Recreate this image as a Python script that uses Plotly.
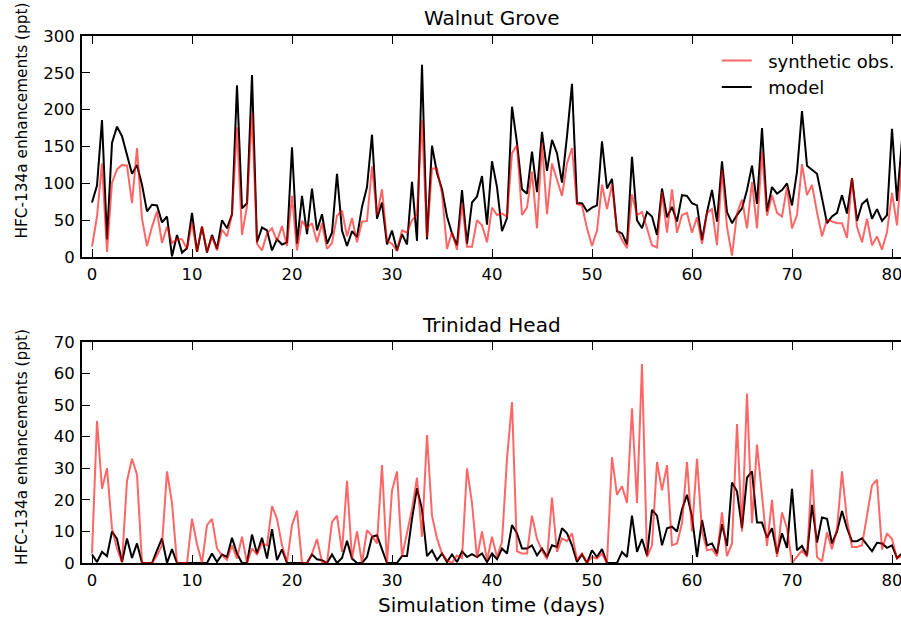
import plotly.graph_objects as go

DAY_START = 0.0
DAY_STEP = 0.5

# Walnut Grove (ppt)
wg_model = [74, 97, 186, 24, 155, 177, 164, 139, 113, 125, 98, 62, 71, 70, 47, 55, 1, 30, 6, 12,
            60, 7, 41, 6, 30, 11, 50, 39, 58, 233, 66, 73, 247, 20, 40, 36, 9, 24, 17, 20,
            149, 18, 83, 31, 93, 36, 58, 18, 33, 113, 36, 15, 35, 27, 68, 95, 166, 52, 74, 17,
            36, 9, 31, 17, 102, 22, 261, 24, 151, 114, 92, 55, 32, 16, 91, 18, 74, 82, 110, 44,
            130, 95, 35, 53, 204, 155, 92, 86, 143, 88, 170, 117, 159, 141, 101, 164, 235, 73, 73, 62,
            67, 70, 157, 93, 106, 35, 32, 17, 136, 50, 39, 61, 55, 30, 93, 54, 68, 48, 84, 83,
            73, 70, 23, 61, 91, 48, 130, 61, 46, 57, 66, 91, 124, 72, 175, 62, 95, 86, 91, 100,
            70, 116, 198, 124, 118, 113, 80, 46, 55, 60, 84, 59, 107, 49, 72, 78, 52, 65, 49, 57,
            174, 76, 159]
wg_obs = [14, 55, 127, 7, 101, 119, 125, 124, 73, 148, 52, 15, 41, 62, 19, 41, 19, 24, 24, 11,
          46, 7, 42, 7, 28, 9, 37, 28, 58, 176, 30, 69, 195, 18, 9, 32, 39, 22, 42, 15,
          83, 9, 49, 39, 46, 20, 46, 11, 19, 56, 63, 28, 53, 20, 48, 49, 123, 57, 92, 22,
          18, 8, 36, 33, 50, 58, 186, 27, 120, 120, 86, 11, 34, 10, 73, 14, 14, 50, 43, 20,
          67, 57, 59, 55, 141, 152, 57, 67, 116, 39, 155, 58, 127, 105, 83, 127, 148, 72, 70, 39,
          15, 36, 98, 65, 99, 37, 23, 12, 85, 57, 61, 39, 16, 13, 88, 33, 92, 33, 57, 60,
          33, 54, 18, 60, 65, 16, 118, 41, 2, 59, 78, 39, 102, 39, 143, 56, 84, 60, 55, 95,
          39, 57, 126, 84, 98, 61, 28, 51, 49, 46, 46, 26, 107, 41, 20, 52, 16, 28, 10, 34,
          87, 43, 132]

# Trinidad Head (ppt)
th_model = [2.7, 0.3, 3.5, 2.2, 10, 7.6, 0.3, 7.8, 1.6, 6.2, 0, 0, 0, 4, 7.8, 0, 4.4, 0, 0, 0,
            0, 0, 0, 0, 3, 0.3, 2.7, 1.9, 8, 3, 0, 0, 9, 3, 8, 1.4, 10.7, 0.9, 4.3, 0,
            0, 0, 0, 0, 2.7, 1.2, 0.9, 0, 2.7, 0, 1.6, 7, 1.4, 0, 0, 1.9, 8.3, 8.8, 4.3, 0,
            0, 0, 2.2, 2.2, 14, 23.7, 17, 2.2, 4, 0.9, 3, 0.3, 2.7, 0.3, 3.7, 1.9, 2.8, 1.9, 3, 0.3,
            3, 1.2, 4.6, 3, 12, 9.4, 4.6, 4.6, 5.6, 2.4, 4.6, 1.9, 5.6, 5.1, 11, 9.4, 5.6, 0.3, 2.7, 0,
            4, 1.9, 4.4, 0, 0, 0, 3.5, 1.9, 15, 3.5, 7.6, 2.4, 16.8, 15, 5.6, 11, 11.5, 10, 17, 21.6,
            14.7, 1.9, 13.6, 5.6, 6.2, 3, 12.3, 5.4, 25.5, 22.7, 11, 27, 29, 12.8, 12.8, 8, 11, 3, 9.4, 4.8,
            23.5, 4, 5.4, 2.4, 18.4, 6.5, 14.4, 14, 6.2, 10, 16.5, 11, 6.9, 6.9, 7.8, 5.6, 3.7, 6.4, 6.2, 4.8,
            5.6, 1.6, 3]
th_obs = [3, 45, 23.5, 30, 11, 4.6, 0.3, 26, 33, 28, 0, 0, 0, 2.4, 5.6, 29, 19, 0, 0, 0,
          14, 6, 0, 12, 14, 4.6, 2.4, 1, 5.6, 1.4, 8.3, 0, 4.6, 2.7, 6.2, 5.6, 18, 14, 5.6, 0.3,
          12, 16.6, 0, 0, 3, 7.6, 0.3, 0, 13, 15, 3.5, 26, 1.4, 10, 0, 10.4, 8.6, 6.2, 31, 0,
          23, 29, 2, 10, 17, 27, 8.3, 40.5, 15, 7.8, 3, 0.9, 0, 2.4, 1.6, 30, 19, 1.6, 10, 0.9,
          8.3, 1.9, 6.7, 33, 51, 3.7, 3, 3, 15, 7.6, 4, 1.2, 20.7, 3.5, 7.8, 6.9, 9.4, 0.9, 3, 0,
          1.9, 1.4, 3, 0, 33.5, 21.6, 24.3, 19, 49, 19, 63, 1.9, 5.6, 32, 23, 31, 5.6, 6.2, 12.6, 32,
          10, 33, 10, 4, 4.4, 2.2, 16, 2.2, 6.2, 44, 10, 53.7, 12.6, 37.5, 21.6, 5.4, 20, 1.9, 16, 11,
          0, 1.9, 4, 1.9, 29.6, 1.9, 0.5, 9.7, 4.4, 10.7, 29, 13.6, 5.1, 5.1, 5.6, 15, 24.6, 26.4, 4.3, 9.4,
          7.6, 1.4, 2.4]

x_ticks = [0, 10, 20, 30, 40, 50, 60, 70, 80]
wg_ticks = [0, 50, 100, 150, 200, 250, 300]
th_ticks = [0, 10, 20, 30, 40, 50, 60, 70]

FONT = "DejaVu Sans"
RED = "rgba(255,0,0,0.6)"
NBSP = "\u00a0"

fig = go.Figure()
fig.add_trace(go.Scatter(y=wg_model, x0=DAY_START, dx=DAY_STEP, mode="lines", name=NBSP * 2 + "model",
                         line=dict(color="black", width=2), xaxis="x", yaxis="y"))
fig.add_trace(go.Scatter(y=wg_obs, x0=DAY_START, dx=DAY_STEP, mode="lines",
                         name=NBSP * 2 + "synthetic obs.",
                         line=dict(color=RED, width=2), xaxis="x", yaxis="y"))
fig.add_trace(go.Scatter(y=th_model, x0=DAY_START, dx=DAY_STEP, mode="lines", showlegend=False,
                         line=dict(color="black", width=2), xaxis="x2", yaxis="y2"))
fig.add_trace(go.Scatter(y=th_obs, x0=DAY_START, dx=DAY_STEP, mode="lines", showlegend=False,
                         line=dict(color=RED, width=2), xaxis="x2", yaxis="y2"))

common_x = dict(range=[-1, 80.9], tickvals=x_ticks, ticks="inside", ticklen=8, tickwidth=1,
                tickcolor="black", showline=True, linewidth=2, linecolor="black", mirror="ticks",
                showgrid=False, zeroline=False, tickfont=dict(size=16.5, color="black"),
                ticklabelstandoff=1, automargin=False, ticklabeloverflow="allow")
common_y = dict(ticks="inside", ticklen=8, tickwidth=1, tickcolor="black", showline=True,
                linewidth=2, linecolor="black", mirror=False, showgrid=False, zeroline=False,
                tickfont=dict(size=16.5, color="black"), ticklabelstandoff=2, automargin=False)

fig.update_layout(
    width=901, height=619,
    margin=dict(l=82, r=0, t=36, b=56, autoexpand=False),
    paper_bgcolor="white", plot_bgcolor="white",
    font=dict(family=FONT, color="black"),
    xaxis=dict(domain=[0, 1], anchor="y", **common_x),
    yaxis=dict(domain=[0.5806, 1], anchor="x", range=[0, 300], tickvals=wg_ticks, **common_y),
    xaxis2=dict(domain=[0, 1], anchor="y2", **common_x),
    yaxis2=dict(domain=[0, 0.4194], anchor="x2", range=[0, 70], tickvals=th_ticks, **common_y),
    legend=dict(x=0.775, y=0.988, xanchor="left", yanchor="top", traceorder="reversed",
                bgcolor="rgba(0,0,0,0)", font=dict(size=18), itemwidth=30),
    showlegend=True,
    annotations=[
        dict(text="Walnut Grove", x=0.5, y=1.034, xref="paper", yref="paper", showarrow=False,
             xanchor="center", yanchor="middle", font=dict(size=20)),
        dict(text="Trinidad Head", x=0.5, y=0.4516, xref="paper", yref="paper", showarrow=False,
             xanchor="center", yanchor="middle", font=dict(size=20)),
        dict(text="Simulation time (days)", x=0.5, y=-0.0797, xref="paper", yref="paper",
             showarrow=False, xanchor="center", yanchor="middle", font=dict(size=20)),
        dict(text="HFC-134a enhancements (ppt)", x=-0.0733, y=(563 - 120.5) / 527, xref="paper",
             yref="paper", showarrow=False, xanchor="center", yanchor="middle", textangle=-90,
             font=dict(size=15.3)),
        dict(text="HFC-134a enhancements (ppt)", x=-0.0733, y=(563 - 447) / 527, xref="paper",
             yref="paper", showarrow=False, xanchor="center", yanchor="middle", textangle=-90,
             font=dict(size=15.3)),
    ],
)

fig.write_html("out.html", post_script="document.body.style.margin='0';",
               config={"displayModeBar": False})
